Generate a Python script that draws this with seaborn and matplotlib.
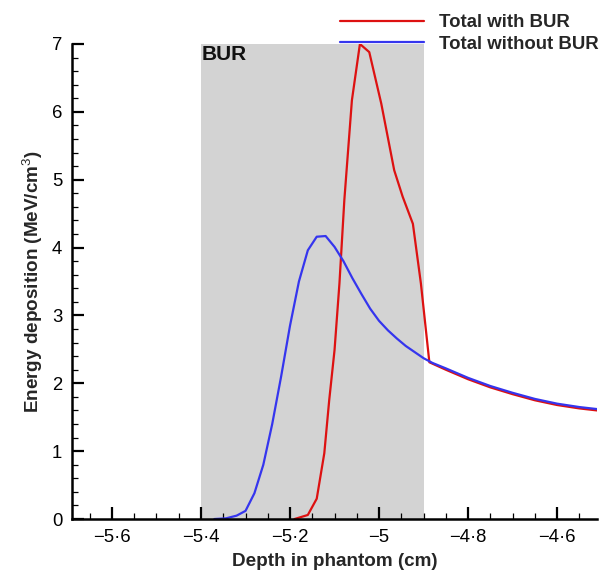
import numpy as np
import pandas as pd
import matplotlib
matplotlib.use("Agg")
import matplotlib.pyplot as plt
import seaborn as sns

# ---- data ----
x_with = [-5.19, -5.16, -5.14, -5.123, -5.112, -5.10, -5.089, -5.078, -5.061, -5.043,
          -5.022, -4.995, -4.966, -4.947, -4.924, -4.906, -4.887, -4.85, -4.80, -4.75,
          -4.70, -4.65, -4.60, -4.55, -4.51]
y_with = [0.0, 0.06, 0.30, 0.97, 1.75, 2.49, 3.47, 4.70, 6.17, 7.00,
          6.88, 6.12, 5.14, 4.75, 4.35, 3.47, 2.31, 2.20, 2.06, 1.94,
          1.84, 1.75, 1.68, 1.63, 1.60]

x_without = [-5.37, -5.344, -5.32, -5.30, -5.28, -5.26, -5.24, -5.22, -5.20, -5.18,
             -5.16, -5.14, -5.12, -5.10, -5.08, -5.06, -5.04, -5.02, -5.00, -4.98,
             -4.96, -4.94, -4.92, -4.90, -4.88, -4.85, -4.80, -4.75, -4.70, -4.65,
             -4.60, -4.55, -4.51]
y_without = [0.0, 0.01, 0.05, 0.12, 0.38, 0.80, 1.40, 2.10, 2.85, 3.50,
             3.96, 4.16, 4.17, 4.01, 3.80, 3.55, 3.32, 3.10, 2.92, 2.78,
             2.66, 2.55, 2.46, 2.37, 2.30, 2.22, 2.08, 1.96, 1.86, 1.77,
             1.70, 1.65, 1.62]

series_names = ["Total with BUR", "Total without BUR"]
series_colors = ["#dd1111", "#3535ee"]

bur_start, bur_end = -5.4, -4.9
bur_label = "BUR"

x_ticks = [-5.6, -5.4, -5.2, -5.0, -4.8, -4.6]
x_tick_labels = ["\u22125\u00b76", "\u22125\u00b74", "\u22125\u00b72", "\u22125", "\u22124\u00b78", "\u22124\u00b76"]
y_ticks = [0, 1, 2, 3, 4, 5, 6, 7]
y_tick_labels = ["0", "1", "2", "3", "4", "5", "6", "7"]

x_label = "Depth in phantom (cm)"
y_label = r"Energy deposition (MeV/cm$^{3}$)"

df = pd.concat([
    pd.DataFrame({"depth": x_with, "energy": y_with, "series": series_names[0]}),
    pd.DataFrame({"depth": x_without, "energy": y_without, "series": series_names[1]}),
], ignore_index=True)

# ---- style ----
sns.set_theme(style="ticks")
plt.rcParams["font.family"] = ["Liberation Sans", "DejaVu Sans"]
plt.rcParams["mathtext.fontset"] = "custom"
plt.rcParams["mathtext.rm"] = "Liberation Sans"
plt.rcParams["mathtext.it"] = "Liberation Sans"
plt.rcParams["mathtext.bf"] = "Liberation Sans:bold"
plt.rcParams["mathtext.default"] = "rm"

fig = plt.figure(figsize=(5.99, 5.71), dpi=100)
ax = fig.add_axes([0.12, 0.091, 0.877, 0.832])

ax.axvspan(bur_start, bur_end, color="#d3d3d3", zorder=0, lw=0)

sns.lineplot(data=df, x="depth", y="energy", hue="series", hue_order=series_names,
             palette=series_colors, linewidth=1.6, ax=ax, sort=False, estimator=None)

ax.set_xlim(-5.69, -4.51)
ax.set_ylim(0, 7)

ax.set_xticks(x_ticks)
ax.set_xticklabels(x_tick_labels)
ax.set_yticks(y_ticks)
ax.set_yticklabels(y_tick_labels)
ax.xaxis.set_minor_locator(matplotlib.ticker.MultipleLocator(0.05))
ax.yaxis.set_minor_locator(matplotlib.ticker.MultipleLocator(0.2))

ax.tick_params(which="major", direction="in", length=8.5, width=1.6, labelsize=13.3,
               colors="black", pad=7)
ax.tick_params(which="minor", direction="in", length=4.3, width=0.9, colors="black")

for side in ["top", "right"]:
    ax.spines[side].set_visible(False)
for side in ["left", "bottom"]:
    ax.spines[side].set_linewidth(1.8)
    ax.spines[side].set_color("black")

ax.set_xlabel(x_label, fontsize=13.6, fontweight="bold", labelpad=5)
ax.set_ylabel(y_label, fontsize=13.6, fontweight="bold", labelpad=5)

ax.text(bur_start + 0.002, 6.98, bur_label, ha="left", va="top", fontsize=15,
        fontweight="bold", color="#111111")

sns.move_legend(ax, loc="upper left", bbox_to_anchor=(340 / 599, 1 - 14 / 571),
                bbox_transform=fig.transFigure, frameon=False, title=None,
                handlelength=4.5, handletextpad=0.8, borderpad=0, borderaxespad=0,
                labelspacing=0.25, prop={"weight": "bold", "size": 13.4})

fig.savefig("out.png", dpi=100)
